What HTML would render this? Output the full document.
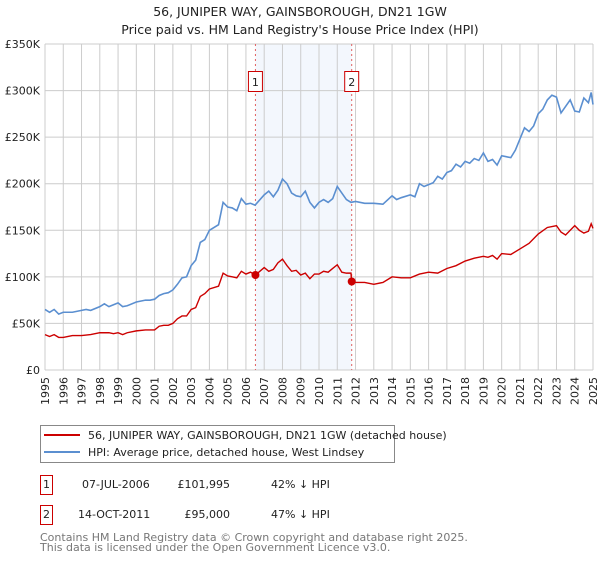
<!DOCTYPE html>
<html><head><meta charset="utf-8"><style>
body{margin:0;background:#fff;font-family:"DejaVu Sans","Liberation Sans",sans-serif;}
svg text{font-family:"DejaVu Sans","Liberation Sans",sans-serif;}
</style></head><body>
<svg id="chart" width="600" height="560" viewBox="0 0 600 560" xmlns="http://www.w3.org/2000/svg">
<text x="300" y="16" text-anchor="middle" font-size="12.5" fill="#222">56, JUNIPER WAY, GAINSBOROUGH, DN21 1GW</text>
<text x="300" y="34" text-anchor="middle" font-size="12.5" fill="#222">Price paid vs. HM Land Registry's House Price Index (HPI)</text>
<g id="grid"></g>
<g id="series"></g>
<rect x="40.5" y="425.5" width="354" height="37" fill="#fff" stroke="#888"/>
<line x1="44" y1="435" x2="80" y2="435" stroke="#cc0000" stroke-width="2"/>
<text x="88" y="439" font-size="11" fill="#222">56, JUNIPER WAY, GAINSBOROUGH, DN21 1GW (detached house)</text>
<line x1="44" y1="452" x2="80" y2="452" stroke="#5b8fd0" stroke-width="2"/>
<text x="88" y="456" font-size="11" fill="#222">HPI: Average price, detached house, West Lindsey</text>
<rect x="40.5" y="475.5" width="12" height="19" fill="#fff" stroke="#cc0000"/>
<text x="46.5" y="488" text-anchor="middle" font-size="11" fill="#222">1</text>
<text x="82" y="488" font-size="11" fill="#222">07-JUL-2006</text>
<text x="230" y="488" text-anchor="end" font-size="11" fill="#222">£101,995</text>
<text x="271" y="488" font-size="11" fill="#222">42% ↓ HPI</text>
<rect x="40.5" y="505.5" width="12" height="19" fill="#fff" stroke="#cc0000"/>
<text x="46.5" y="518" text-anchor="middle" font-size="11" fill="#222">2</text>
<text x="78" y="518" font-size="11" fill="#222">14-OCT-2011</text>
<text x="230" y="518" text-anchor="end" font-size="11" fill="#222">£95,000</text>
<text x="271" y="518" font-size="11" fill="#222">47% ↓ HPI</text>
<text x="40" y="541" font-size="11" fill="#777">Contains HM Land Registry data © Crown copyright and database right 2025.</text>
<text x="40" y="551" font-size="11" fill="#777">This data is licensed under the Open Government Licence v3.0.</text>
</svg>
<script>
const yTicks=[0,50,100,150,200,250,300,350];
const yTickLabels=["£0","£50K","£100K","£150K","£200K","£250K","£300K","£350K"];
const years=[1995,1996,1997,1998,1999,2000,2001,2002,2003,2004,2005,2006,2007,2008,2009,2010,2011,2012,2013,2014,2015,2016,2017,2018,2019,2020,2021,2022,2023,2024,2025];
const hpiT=[1995.0,1995.25,1995.5,1995.75,1996.0,1996.5,1997.0,1997.25,1997.5,1998.0,1998.25,1998.5,1998.75,1999.0,1999.25,1999.5,2000.0,2000.5,2000.75,2001.0,2001.25,2001.5,2001.75,2002.0,2002.25,2002.5,2002.75,2003.0,2003.25,2003.5,2003.75,2004.0,2004.5,2004.75,2005.0,2005.25,2005.5,2005.75,2006.0,2006.25,2006.5,2007.0,2007.25,2007.5,2007.75,2008.0,2008.25,2008.5,2008.75,2009.0,2009.25,2009.5,2009.75,2010.0,2010.25,2010.5,2010.75,2011.0,2011.25,2011.5,2011.75,2012.0,2012.5,2013.0,2013.5,2014.0,2014.25,2014.5,2015.0,2015.25,2015.5,2015.75,2016.0,2016.25,2016.5,2016.75,2017.0,2017.25,2017.5,2017.75,2018.0,2018.25,2018.5,2018.75,2019.0,2019.25,2019.5,2019.75,2020.0,2020.25,2020.5,2020.75,2021.0,2021.25,2021.5,2021.75,2022.0,2022.25,2022.5,2022.75,2023.0,2023.25,2023.5,2023.75,2024.0,2024.25,2024.5,2024.75,2024.9,2025.0];
const hpiV=[65,62,65,60,62,62,64,65,64,68,71,68,70,72,68,69,73,75,75,76,80,82,83,86,92,99,100,112,118,137,140,150,156,180,175,174,171,184,178,179,177,188,192,186,193,205,200,190,187,186,192,180,174,180,183,180,184,197,190,183,180,181,179,179,178,187,183,185,188,186,200,197,199,201,208,205,212,214,221,218,224,222,227,225,233,224,226,220,230,229,228,236,248,260,256,262,275,280,290,295,293,276,283,290,278,277,292,287,298,285];
const ppT=[1995.0,1995.25,1995.5,1995.75,1996.0,1996.5,1997.0,1997.5,1998.0,1998.5,1998.75,1999.0,1999.25,1999.5,2000.0,2000.5,2001.0,2001.25,2001.5,2001.75,2002.0,2002.25,2002.5,2002.75,2003.0,2003.25,2003.5,2003.75,2004.0,2004.5,2004.75,2005.0,2005.25,2005.5,2005.75,2006.0,2006.25,2006.52,2007.0,2007.25,2007.5,2007.75,2008.0,2008.25,2008.5,2008.75,2009.0,2009.25,2009.5,2009.75,2010.0,2010.25,2010.5,2010.75,2011.0,2011.25,2011.5,2011.75,2011.79,2012.0,2012.5,2013.0,2013.5,2014.0,2014.5,2015.0,2015.5,2016.0,2016.5,2017.0,2017.5,2018.0,2018.5,2019.0,2019.25,2019.5,2019.75,2020.0,2020.5,2021.0,2021.5,2022.0,2022.5,2023.0,2023.25,2023.5,2024.0,2024.25,2024.5,2024.75,2024.9,2025.0];
const ppV=[38,36,38,35,35,37,37,38,40,40,39,40,38,40,42,43,43,47,48,48,50,55,58,58,65,67,79,82,87,90,104,101,100,99,106,103,105,102,110,106,108,115,119,112,106,107,102,104,98,103,103,106,105,109,113,105,104,104,95,94,94,92,94,100,99,99,103,105,104,109,112,117,120,122,121,123,119,125,124,130,136,146,153,155,148,145,155,150,147,149,157,152];
const sales=[{t:2006.52,v:101.995,label:"1"},{t:2011.79,v:95,label:"2"}];
const NS="http://www.w3.org/2000/svg";
const X0=45,X1=593,Y0=370,Y1=44;
function xs(t){return X0+(t-1995)/(2025-1995)*(X1-X0);}
function ys(v){return Y0-v/350*(Y0-Y1);}
function mk(tag,attrs,parent){const e=document.createElementNS(NS,tag);for(const k in attrs)e.setAttribute(k,attrs[k]);parent.appendChild(e);return e;}
const grid=document.getElementById('grid'),ser=document.getElementById('series');
const shade=mk('rect',{x:xs(sales[0].t),y:Y1,width:xs(sales[1].t)-xs(sales[0].t),height:Y0-Y1,fill:'#eef3fc',opacity:0.7},grid);


years.forEach(y=>{
 const l=mk('line',{x1:xs(y),x2:xs(y),y1:Y1,y2:Y0,stroke:'#cccccc','stroke-width':1},grid);
 
 
 const t=mk('text',{transform:`translate(${xs(y)+4},377) rotate(-90)`,'text-anchor':'end','font-size':11,fill:'#222'},grid);
 t.textContent=y;
 
 
});
yTicks.forEach((v,i)=>{
 const l=mk('line',{x1:X0,x2:X1,y1:ys(v),y2:ys(v),stroke:'#cccccc','stroke-width':1},grid);
 
 
 const t=mk('text',{x:40,y:ys(v)+4,'text-anchor':'end','font-size':11,fill:'#222'},grid);
 t.textContent=yTickLabels[i];
 
 
});
sales.forEach(s=>{
 const l=mk('line',{x1:xs(s.t),x2:xs(s.t),y1:Y1,y2:Y0,stroke:'#e06060','stroke-width':1,'stroke-dasharray':'2,3'},grid);
 
 
 const b=mk('rect',{x:xs(s.t)-7,y:71.5,width:14,height:20,fill:'#fff',stroke:'#cc0000'},grid);
 
 
 const t=mk('text',{x:xs(s.t),y:86,'text-anchor':'middle','font-size':11,fill:'#222'},grid);
 t.textContent=s.label;
 
 
});
const hp=mk('polyline',{points:hpiT.map((t,i)=>xs(t)+','+ys(hpiV[i])).join(' '),fill:'none',stroke:'#5b8fd0','stroke-width':1.6},ser);


const pp=mk('polyline',{points:ppT.map((t,i)=>xs(t)+','+ys(ppV[i])).join(' '),fill:'none',stroke:'#cc0000','stroke-width':1.4},ser);


sales.forEach(s=>{
 const c=mk('circle',{cx:xs(s.t),cy:ys(s.v),r:4,fill:'#cc0000'},ser);
 
 
});
</script>
</body></html>
